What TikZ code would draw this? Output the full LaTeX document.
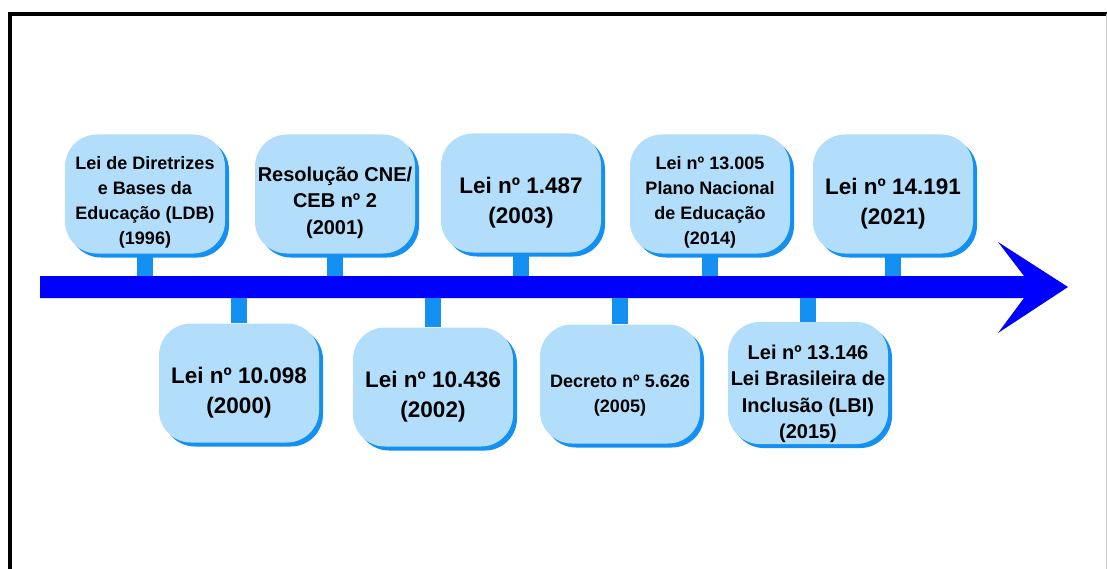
\documentclass[tikz,border=0pt]{standalone}
\usepackage{fontspec}
\setmainfont{Liberation Sans}
\usepackage{tikz}
\usetikzlibrary{positioning, shadows}
\definecolor{tlBar}{HTML}{0000FF}
\definecolor{tlBox}{HTML}{B3DEFB}
\definecolor{tlStem}{HTML}{1490F2}
\definecolor{frameGray}{HTML}{C8C8C8}

\begin{document}
\begin{tikzpicture}[x=1pt,y=-1pt,ev/.style={rounded corners=32pt, fill=tlBox, minimum width=160pt, minimum height=119pt, inner sep=1pt, align=center, font=\fontsize{18}{25}\selectfont\bfseries, execute at begin node={\rule{0pt}{#1}}, drop shadow={shadow xshift=4pt, shadow yshift=-4pt, fill=tlStem, opacity=1}},ev/.default=0pt,big/.style={font=\fontsize{22.5}{30}\selectfont\bfseries},mid/.style={font=\fontsize{20}{26.5}\selectfont\bfseries},stem/.style={draw=tlStem, line width=16pt}]
\useasboundingbox (0,0) rectangle (1107,569);
% frame
\draw[line width=4pt] (9.5,569) -- (9.5,14) -- (1107,14);
\draw[frameGray, line width=1pt] (1106,14) -- (1106,569);
% timeline arrow
\fill[tlBar] (40,276) -- (1024,276) -- (998,242) -- (1068,287) -- (998,333) -- (1024,298) -- (40,298) -- cycle;
\coordinate (barTop) at (0,276); \coordinate (barBot) at (0,298);
% events above
\node[ev=104pt] (ldb) at (145,194) {Lei de Diretrizes\\e Bases da\\Educação (LDB)\\(1996)};
\node[ev=85pt, mid] (cne) at (335,194) {Resolução CNE/\\CEB nº 2\\(2001)};
\node[ev=66pt, big] (l1487) at (521,193) {Lei nº 1.487\\(2003)};
\node[ev=104pt] (pne) at (710,194) {Lei nº 13.005\\Plano Nacional\\de Educação\\(2014)};
\node[ev=66pt, big] (l14191) at (893,194) {Lei nº 14.191\\(2021)};
% events below
\node[ev=66pt, big] (l10098) at (239,383) {Lei nº 10.098\\(2000)};
\node[ev=66pt, big] (l10436) at (433,387) {Lei nº 10.436\\(2002)};
\node[ev=60pt] (dec) at (620,384) {Decreto nº 5.626\\(2005)};
\node[ev=116pt, mid] (lbi) at (808,383) {Lei nº 13.146\\Lei Brasileira de\\Inclusão (LBI)\\(2015)};
\draw[stem] (ldb.south) -- (ldb.south |- barTop); \draw[stem] (cne.south) -- (cne.south |- barTop); \draw[stem] (l1487.south) -- (l1487.south |- barTop); \draw[stem] (pne.south) -- (pne.south |- barTop); \draw[stem] (l14191.south) -- (l14191.south |- barTop);
\draw[stem] (l10098.north) -- (l10098.north |- barBot); \draw[stem] (l10436.north) -- (l10436.north |- barBot); \draw[stem] (dec.north) -- (dec.north |- barBot); \draw[stem] (lbi.north) -- (lbi.north |- barBot);
\end{tikzpicture}
\end{document}
